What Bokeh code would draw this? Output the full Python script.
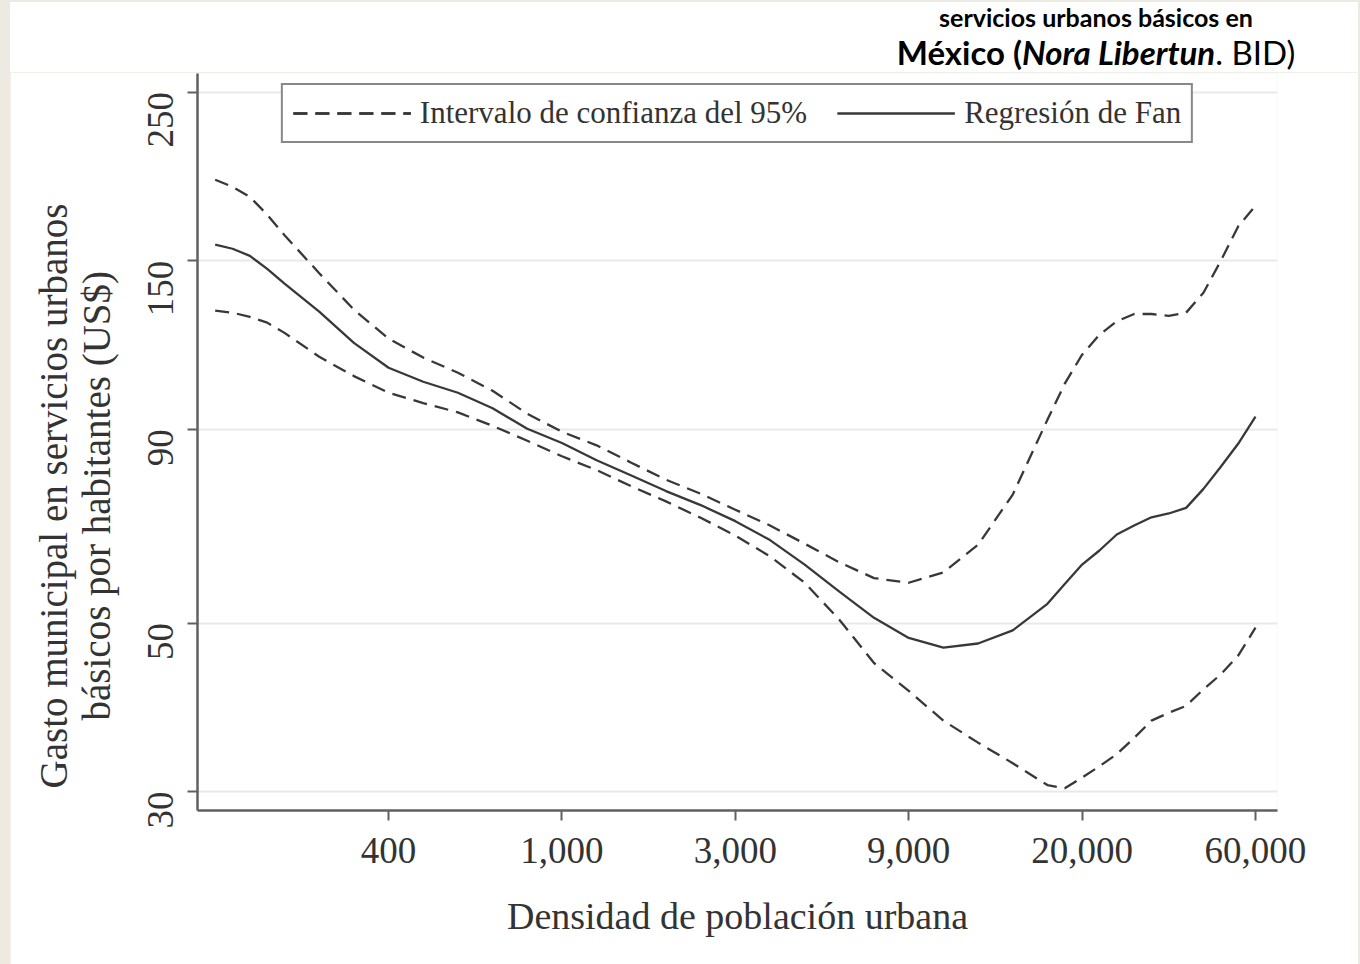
import math
from bokeh.plotting import figure
from bokeh.models import Range1d, FixedTicker, Legend, LegendItem, Title, Div
from bokeh.layouts import column
from bokeh.embed import file_html
from bokeh.resources import INLINE

# ln(urban population density)
log_density = [5.0, 5.1, 5.2, 5.3, 5.4, 5.6, 5.8, 6.0, 6.2, 6.4, 6.6, 6.8, 7.0, 7.2, 7.4,
               7.6, 7.8, 8.0, 8.2, 8.4, 8.6, 8.8, 9.0, 9.2, 9.4, 9.6, 9.8, 9.9, 10.0, 10.1,
               10.2, 10.3, 10.4, 10.5, 10.6, 10.7, 10.8, 10.9, 11.0]
fan_regression = [157.4, 155.5, 152.2, 146.3, 139.9, 128.5, 116.9, 108.4, 103.9, 100.5, 95.9,
                  90.1, 86.3, 81.9, 78.2, 74.6, 71.5, 68.1, 64.3, 59.7, 55.0, 50.8, 47.8,
                  46.4, 47.0, 48.9, 53.0, 56.3, 59.7, 62.3, 65.4, 67.2, 68.9, 69.7, 70.9,
                  75.1, 80.3, 86.1, 93.5]
ci_upper = [191.7, 187.6, 182.0, 172.4, 162.0, 144.4, 129.3, 118.4, 111.8, 106.8, 101.1, 94.3,
            89.3, 85.7, 81.3, 77.2, 74.0, 70.5, 67.2, 63.6, 60.1, 57.3, 56.5, 58.3, 63.4,
            73.8, 92.6, 103.3, 112.8, 119.8, 124.8, 127.6, 127.6, 126.9, 128.1, 136.1, 149.9,
            166.4, 177.2]
ci_lower = [128.9, 128.1, 126.5, 124.3, 120.5, 112.1, 105.7, 100.5, 97.4, 94.7, 90.9, 86.9,
            82.9, 79.5, 75.7, 72.3, 68.8, 65.2, 61.2, 56.5, 50.5, 44.3, 40.7, 37.2, 34.8,
            32.7, 30.6, 30.3, 31.3, 32.4, 33.6, 35.3, 37.2, 38.1, 38.9, 40.9, 42.8, 45.3,
            49.3]

x_tick_values = [6, 7, 8, 9, 10, 11]
x_tick_labels = ["400", "1,000", "3,000", "9,000", "20,000", "60,000"]
y_tick_values = [30, 50, 90, 150, 250]
y_tick_labels = ["30", "50", "90", "150", "250"]

legend_ci = "Intervalo de confianza del 95%"
legend_fan = "Regresión de Fan"
x_title = "Densidad de población urbana"
y_title_1 = "Gasto municipal en servicios urbanos"
y_title_2 = "básicos por habitantes (US$)"
header_1 = "servicios urbanos básicos en"
header_2a = "México ("
header_2b = "Nora Libertun"
header_2c = ". BID)"

SERIF = "Liberation Serif"
INK = "#333333"
LINE = "#383838"

p = figure(width=1348, height=892, y_axis_type="log", title=None,
           x_range=Range1d(4.898, 11.127), y_range=Range1d(28.33, 264.5),
           output_backend="svg", toolbar_location=None,
           min_border_left=187, min_border_right=81, min_border_top=1,
           min_border_bottom=154)
p.background_fill_color = "white"
p.border_fill_color = "white"
p.outline_line_color = None

r_up = p.line(log_density, ci_upper, line_color=LINE, line_width=2.3, line_dash="14 8")
r_lo = p.line(log_density, ci_lower, line_color=LINE, line_width=2.3, line_dash="14 8")
r_fan = p.line(log_density, fan_regression, line_color=LINE, line_width=2.3)

# axes
xa = p.xaxis[0]
xa.ticker = FixedTicker(ticks=x_tick_values)
xa.major_label_overrides = {v: l for v, l in zip(x_tick_values, x_tick_labels)}
ya = p.yaxis[0]
ya.ticker = FixedTicker(ticks=y_tick_values)
ya.major_label_overrides = {v: l for v, l in zip(y_tick_values, y_tick_labels)}
ya.major_label_orientation = math.pi / 2

for ax in (xa, ya):
    ax.axis_line_color = "#606060"
    ax.axis_line_width = 2.5
    ax.major_tick_line_color = "#606060"
    ax.major_tick_line_width = 2
    ax.major_tick_out = 10
    ax.major_tick_in = 0
    ax.minor_tick_line_color = None
    ax.major_label_text_font = SERIF
    ax.major_label_text_font_size = "37px"
    ax.major_label_text_color = INK
xa.major_label_standoff = 17
ya.major_label_standoff = 27

xa.axis_label = x_title
xa.axis_label_text_font = SERIF
xa.axis_label_text_font_size = "38px"
xa.axis_label_text_font_style = "normal"
xa.axis_label_text_color = INK
xa.axis_label_standoff = 29

p.xgrid.grid_line_color = None
p.ygrid.ticker = FixedTicker(ticks=y_tick_values)
p.ygrid.grid_line_color = "#e9e9e9"
p.ygrid.grid_line_width = 2

# y title, two lines stacked outside the y axis
for txt, off, so in ((y_title_2, 90, 30), (y_title_1, 22, -34)):
    p.add_layout(Title(text=txt, align="left", offset=off, standoff=so,
                       text_font=SERIF, text_font_size="39px", text_font_style="normal",
                       text_color=INK), "left")

legend = Legend(items=[LegendItem(label=legend_ci, renderers=[r_up, r_lo]),
                       LegendItem(label=legend_fan, renderers=[r_fan])],
                orientation="horizontal", location="top_center",
                label_text_font=SERIF, label_text_font_size="31px", label_text_color=INK,
                glyph_width=118, glyph_height=30, label_standoff=9, spacing=30,
                padding=10, margin=10,
                border_line_color="#111111", border_line_width=2.2,
                background_fill_color="white", background_fill_alpha=1.0)
p.add_layout(legend)

header_html = (
    '<div style="margin-left:826px; width:520px; text-align:center; white-space:nowrap; '
    'font-family:Lato; font-weight:700; color:#000;">'
    f'<div style="font-size:25px; line-height:30px; height:30px;">{header_1}</div>'
    f'<div style="font-size:33px; line-height:40px; height:40px;">{header_2a}<i>{header_2b}</i>'
    f'<span style="font-weight:400">{header_2c}</span></div></div>'
)
header = Div(text=header_html, width=1348, height=70,
             styles={"background-color": "white", "margin": "0", "padding": "0"})

layout = column(header, p, spacing=0)

html = file_html(layout, INLINE)
css = ("<style>html, body {background:#EDEBE1 !important;} "
       "body {padding:2px 0 0 10px !important; margin:0 !important; overflow:hidden;}</style>")
if "</head>" in html:
    html = html.replace("</head>", css + "</head>", 1)
open("out.html", "w").write(html)
